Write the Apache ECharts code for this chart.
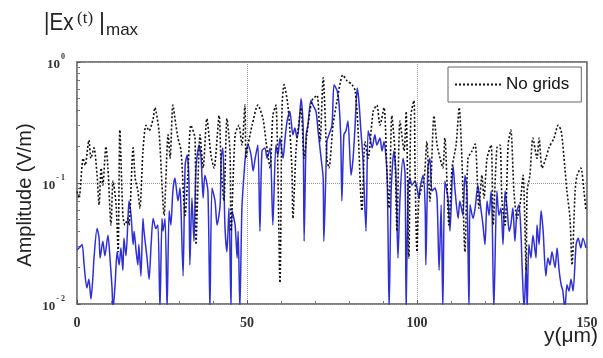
<!DOCTYPE html>
<html>
<head>
<meta charset="utf-8">
<script src="https://cdn.jsdelivr.net/npm/echarts@6/dist/echarts.min.js"></script>
<style>
  html, body { margin: 0; padding: 0; background: #fff; }
  #chart { width: 603px; height: 358px; }
</style>
</head>
<body>
<div id="chart"></div>
<script>
// Peak field amplitude along y (um) without grids, [y, |Ex|max]
const noGridPoints = [
  [0.0,0.085],[0.6,0.075],[1.8,0.16],[2.4,0.14],[3.5,0.226],[4.1,0.16],[5.0,0.195],[5.9,0.116],
  [6.5,0.066],[7.1,0.133],[7.6,0.096],[8.5,0.20],[9.1,0.133],[10.0,0.045],[10.6,0.104],[11.5,0.066],
  [12.1,0.027],[12.6,0.274],[13.5,0.054],[14.1,0.045],[15.0,0.051],[15.3,0.045],[16.5,0.195],[17.1,0.11],
  [17.9,0.086],[18.5,0.062],[19.4,0.184],[20.3,0.30],[21.2,0.27],[22.4,0.34],[22.9,0.42],[24.1,0.27],
  [25.0,0.096],[25.6,0.054],[26.8,0.25],[27.4,0.16],[28.2,0.44],[29.1,0.30],[29.7,0.235],[30.6,0.184],
  [31.8,0.054],[32.6,0.116],[33.5,0.30],[34.7,0.235],[35.0,0.031],[36.2,0.25],[37.1,0.133],[38.2,0.34],
  [39.4,0.17],[40.3,0.133],[41.8,0.36],[42.4,0.133],[43.2,0.071],[44.1,0.34],[45.0,0.184],[45.3,0.040],
  [46.5,0.25],[47.6,0.30],[48.5,0.206],[49.4,0.44],[49.7,0.16],[50.3,0.206],[51.5,0.30],[53.2,0.44],
  [54.7,0.34],[55.6,0.22],[56.8,0.133],[57.6,0.36],[58.5,0.44],[59.7,0.015],[60.3,0.42],[60.9,0.65],
  [62.1,0.42],[63.2,0.133],[63.5,0.051],[64.4,0.184],[65.0,0.27],[65.9,0.42],[66.8,0.16],[67.6,0.25],
  [69.1,0.48],[70.6,0.53],[71.5,0.22],[72.4,0.74],[73.5,0.16],[74.1,0.133],[75.3,0.30],[76.5,0.48],
  [78.2,0.78],[79.4,0.70],[80.9,0.65],[81.8,0.58],[82.6,0.30],[83.8,0.059],[84.7,0.22],[85.6,0.16],
  [87.1,0.39],[88.2,0.44],[89.1,0.30],[90.3,0.42],[91.2,0.116],[91.8,0.062],[92.6,0.36],[93.5,0.184],
  [94.1,0.040],[95.0,0.325],[96.2,0.184],[96.8,0.39],[97.6,0.024],[98.2,0.36],[99.1,0.48],[99.4,0.14],
  [100.0,0.027],[100.6,0.075],[102.1,0.11],[102.9,0.22],[103.8,0.071],[105.0,0.36],[105.9,0.206],[106.8,0.16],
  [107.6,0.133],[108.2,0.235],[109.4,0.045],[110.3,0.133],[111.5,0.206],[112.4,0.42],[113.2,0.16],[114.1,0.027],
  [115.0,0.16],[116.2,0.184],[117.1,0.21],[118.2,0.062],[119.1,0.116],[119.7,0.075],[120.6,0.16],[121.8,0.206],
  [122.4,0.045],[123.5,0.195],[124.4,0.206],[125.0,0.071],[125.9,0.045],[126.8,0.206],[127.6,0.274],[128.5,0.086],
  [129.4,0.051],[130.3,0.066],[131.2,0.116],[132.1,0.019],[132.4,0.086],[133.2,0.116],[134.1,0.235],[135.3,0.16],
  [135.9,0.235],[136.8,0.133],[137.9,0.16],[138.8,0.195],[140.3,0.235],[141.5,0.30],[142.4,0.27],[143.5,0.133],
  [144.1,0.086],[145.0,0.051],[145.6,0.021],[146.5,0.086],[147.1,0.116],[148.2,0.133],[149.1,0.086],[149.7,0.059]
];

// Peak field amplitude along y (um) with grids, [y, |Ex|max]
const gridPoints = [
  [0.0,0.028],[0.6,0.029],[1.5,0.031],[2.1,0.021],[2.9,0.0136],[3.5,0.016],[4.1,0.011],[4.7,0.017],
  [5.0,0.024],[5.9,0.042],[6.5,0.035],[6.8,0.024],[7.6,0.033],[8.2,0.025],[9.1,0.037],[9.7,0.024],
  [10.3,0.0136],[10.6,0.009],[11.2,0.0144],[11.8,0.027],[12.4,0.021],[12.9,0.029],[13.5,0.019],[13.8,0.035],
  [14.4,0.025],[15.0,0.051],[15.3,0.071],[15.9,0.054],[16.5,0.031],[16.8,0.040],[17.4,0.027],[17.9,0.021],
  [18.2,0.031],[18.8,0.017],[19.4,0.051],[19.7,0.040],[20.6,0.024],[21.2,0.016],[21.8,0.031],[22.4,0.051],
  [23.2,0.042],[23.8,0.045],[24.4,0.009],[25.0,0.051],[25.3,0.040],[25.9,0.051],[26.5,0.009],[27.1,0.059],
  [27.6,0.045],[28.2,0.086],[28.8,0.11],[29.7,0.071],[30.3,0.091],[30.6,0.059],[31.2,0.017],[31.8,0.14],
  [32.4,0.17],[32.9,0.11],[33.2,0.021],[33.8,0.075],[34.4,0.033],[35.0,0.133],[35.9,0.206],[36.5,0.16],
  [37.1,0.075],[37.6,0.116],[38.5,0.086],[39.1,0.009],[39.7,0.091],[40.6,0.071],[41.2,0.045],[42.1,0.066],
  [42.4,0.16],[42.9,0.195],[43.5,0.045],[44.1,0.027],[44.7,0.062],[45.3,0.009],[45.6,0.059],[46.5,0.045],
  [47.1,0.024],[47.4,0.040],[47.9,0.009],[48.5,0.062],[49.1,0.116],[49.7,0.184],[50.3,0.206],[51.2,0.17],
  [51.8,0.126],[52.4,0.16],[53.2,0.206],[53.8,0.040],[54.4,0.184],[55.3,0.195],[55.9,0.16],[56.8,0.195],
  [57.6,0.045],[58.5,0.206],[59.1,0.17],[59.7,0.235],[60.6,0.16],[61.2,0.235],[61.8,0.325],[62.6,0.39],
  [63.5,0.25],[64.1,0.285],[64.7,0.235],[65.3,0.30],[65.9,0.50],[66.5,0.30],[66.8,0.033],[67.4,0.25],
  [67.9,0.30],[68.8,0.48],[69.4,0.44],[70.3,0.39],[70.9,0.27],[71.8,0.16],[72.4,0.11],[72.6,0.033],
  [73.5,0.22],[74.1,0.25],[75.0,0.30],[75.6,0.65],[76.5,0.58],[77.1,0.44],[77.6,0.22],[77.9,0.071],
  [78.5,0.25],[79.1,0.27],[79.7,0.325],[80.6,0.116],[81.2,0.16],[81.8,0.30],[82.4,0.61],[82.9,0.48],
  [83.5,0.27],[84.1,0.16],[85.0,0.040],[85.6,0.27],[86.2,0.235],[86.8,0.195],[87.6,0.25],[88.2,0.206],
  [89.1,0.235],[89.7,0.184],[90.3,0.22],[91.2,0.116],[91.8,0.009],[92.4,0.086],[93.2,0.184],[93.8,0.116],
  [94.4,0.024],[95.0,0.075],[95.9,0.16],[96.5,0.116],[96.8,0.009],[97.4,0.096],[97.9,0.11],[98.5,0.096],
  [99.4,0.104],[100.0,0.091],[100.6,0.075],[100.9,0.091],[101.8,0.116],[102.4,0.062],[102.6,0.021],[103.2,0.133],
  [103.8,0.16],[104.4,0.086],[105.3,0.091],[105.9,0.075],[106.5,0.019],[107.1,0.066],[107.6,0.009],[108.2,0.104],
  [109.1,0.075],[109.7,0.040],[110.6,0.14],[111.2,0.086],[112.1,0.051],[112.6,0.071],[113.5,0.054],[114.1,0.116],
  [114.7,0.086],[115.3,0.009],[115.6,0.066],[116.5,0.051],[117.1,0.062],[117.9,0.096],[118.5,0.071],[119.4,0.045],
  [120.0,0.031],[120.6,0.071],[121.2,0.054],[121.8,0.086],[122.1,0.054],[122.6,0.009],[123.5,0.086],[124.1,0.054],
  [124.7,0.062],[125.3,0.031],[125.9,0.086],[126.5,0.062],[127.1,0.040],[127.6,0.045],[128.2,0.062],[128.8,0.033],
  [129.4,0.059],[130.0,0.066],[130.6,0.037],[130.9,0.021],[131.5,0.009],[132.1,0.021],[132.4,0.009],[132.9,0.031],
  [133.5,0.024],[134.1,0.037],[135.0,0.024],[135.3,0.045],[135.9,0.031],[136.5,0.059],[137.1,0.040],[137.9,0.017],
  [138.5,0.024],[139.1,0.021],[139.7,0.027],[140.6,0.020],[141.2,0.029],[141.8,0.019],[142.4,0.0144],[142.9,0.0128],
  [143.5,0.009],[144.1,0.0144],[144.7,0.0128],[145.3,0.016],[145.9,0.0128],[146.8,0.031],[147.4,0.035],[148.2,0.029],
  [148.8,0.035],[149.7,0.029]
];

// Axis ticks
const xTicks = [0, 50, 100, 150];
const yMajorTicks = [0.01, 0.1, 1];
const yMinorTicks = [0.02, 0.03, 0.04, 0.05, 0.06, 0.07, 0.08, 0.09,
                     0.2, 0.3, 0.4, 0.5, 0.6, 0.7, 0.8, 0.9];

const chart = echarts.init(document.getElementById('chart'), null, { renderer: 'canvas' });

const serif = '"Liberation Serif", "DejaVu Serif", serif';
const sans = '"Liberation Sans", Arial, sans-serif';

chart.setOption({
  animation: false,
  backgroundColor: '#fff',
  grid: {
    left: 77, right: 16, top: 62, bottom: 54,
    show: true, borderColor: '#555', borderWidth: 1.5
  },
  legend: {
    data: ['No grids'],
    left: 448, top: 67,
    padding: [9, 12, 9, 6],
    itemWidth: 46, itemHeight: 14,
    borderColor: '#666', borderWidth: 1,
    backgroundColor: '#fff',
    itemStyle: { opacity: 0 },
    textStyle: { fontFamily: sans, fontSize: 17, color: '#111' }
  },
  xAxis: {
    type: 'value',
    min: xTicks[0], max: xTicks[xTicks.length - 1], interval: 50,
    axisLine: { show: false },
    axisTick: { show: true, inside: true, length: 4, lineStyle: { color: '#555' } },
    minorTick: { show: true, splitNumber: 5, length: 3, lineStyle: { color: '#777' } },
    splitLine: { show: true, lineStyle: { color: '#999', type: 'dotted', width: 1 } },
    axisLabel: {
      margin: 12, fontFamily: serif, fontSize: 14, fontWeight: 'bold', color: '#333'
    }
  },
  yAxis: [
    {
      type: 'log',
      logBase: 10,
      min: yMajorTicks[0], max: yMajorTicks[yMajorTicks.length - 1],
      axisLine: { show: false },
      axisTick: { show: true, inside: true, length: 4, lineStyle: { color: '#555' } },
      splitLine: { show: true, lineStyle: { color: '#999', type: 'dotted', width: 1 } },
      axisLabel: {
        margin: 12,
        formatter: function (v) {
          const e = Math.round(Math.log10(v));
          return '{b|10}{s|' + (e < 0 ? '- ' + (-e) : e) + '}';
        },
        rich: {
          b: { fontFamily: serif, fontSize: 13, fontWeight: 'bold', color: '#333', lineHeight: 18, verticalAlign: 'bottom' },
          s: { fontFamily: serif, fontSize: 8, fontWeight: 'bold', color: '#333', lineHeight: 18, verticalAlign: 'top', padding: [0, 0, 0, 1] }
        }
      }
    },
    {
      // minor decade ticks only
      type: 'log',
      logBase: 10,
      min: yMajorTicks[0], max: yMajorTicks[yMajorTicks.length - 1],
      position: 'left',
      axisLine: { show: false },
      axisLabel: { show: false },
      splitLine: { show: false },
      axisTick: {
        show: true, inside: true, length: 3,
        customValues: yMinorTicks,
        lineStyle: { color: '#777' }
      }
    }
  ],
  graphic: [
    { type: 'text', x: 44, y: 12, style: { text: '|Ex', font: '23px ' + sans, fill: '#222' }, scaleX: 0.9 },
    { type: 'text', x: 77, y: 10, style: { text: '(t)', font: '17px ' + serif, fill: '#222' } },
    { type: 'text', x: 99, y: 12, style: { text: '|', font: '23px ' + sans, fill: '#222' } },
    { type: 'text', x: 106, y: 22, style: { text: 'max', font: '17px ' + sans, fill: '#222' } },
    {
      type: 'text', x: 25, y: 195, rotation: Math.PI / 2,
      style: { text: 'Amplitude (V/m)', font: '20px ' + sans, fill: '#222', align: 'center', verticalAlign: 'middle' }
    },
    {
      type: 'text', x: 598, y: 336,
      style: { text: 'y(\u03bcm)', font: '21px ' + sans, fill: '#222', align: 'right', verticalAlign: 'middle' }
    }
  ],
  series: [
    {
      name: 'No grids',
      type: 'line',
      data: noGridPoints,
      symbol: 'none',
      smooth: 0.25,
      lineStyle: { color: '#111', width: 1.6, type: [2, 2] },
      itemStyle: { color: '#111' },
      z: 3
    },
    {
      name: 'With grids',
      type: 'line',
      data: gridPoints,
      symbol: 'none',
      smooth: 0.25,
      lineStyle: { color: '#2f2fd6', width: 1.5 },
      itemStyle: { color: '#2f2fd6' },
      z: 2
    }
  ]
});
</script>
</body>
</html>
